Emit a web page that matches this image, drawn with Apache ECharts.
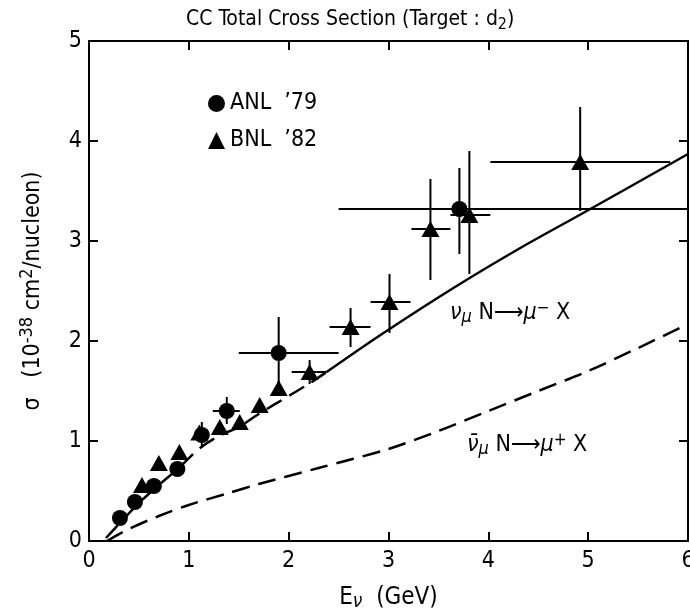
<!DOCTYPE html>
<html>
<head>
<meta charset="utf-8">
<script src="https://cdn.jsdelivr.net/npm/echarts@6/dist/echarts.min.js"></script>
<style>
  html, body { margin: 0; padding: 0; background: #fff; }
  #chart { width: 690px; height: 612px; }
</style>
</head>
<body>
<div id="chart"></div>
<script>
// ANL '79 (circles)
const anlE      = [0.31, 0.46, 0.65, 0.885, 1.13, 1.38, 1.90, 3.71];
const anlSigma  = [0.23, 0.39, 0.55, 0.72, 1.06, 1.30, 1.88, 3.32];
const anlELo    = [null, null, 0.60, 0.83, null, 1.24, 1.50, 2.50];
const anlEHi    = [null, null, 0.70, 0.94, null, 1.51, 2.50, 6.00];
const anlSigLo  = [null, null, null, null, 0.93, 1.17, 1.52, 2.87];
const anlSigHi  = [null, null, null, null, 1.19, 1.44, 2.24, 3.73];

// BNL '82 (triangles)
const bnlE      = [0.53, 0.70, 0.905, 1.105, 1.31, 1.51, 1.71, 1.90, 2.21, 2.62, 3.01, 3.42, 3.81, 4.92];
const bnlSigma  = [0.56, 0.78, 0.89, 1.085, 1.14, 1.19, 1.36, 1.53, 1.69, 2.14, 2.39, 3.12, 3.26, 3.79];
const bnlELo    = [null, null, null, null, null, null, null, null, 2.03, 2.41, 2.82, 3.23, 3.62, 4.02];
const bnlEHi    = [null, null, null, null, null, null, null, null, 2.38, 2.82, 3.22, 3.62, 4.02, 5.82];
const bnlSigLo  = [null, null, null, null, null, null, null, 1.45, 1.57, 1.94, 2.08, 2.61, 2.67, 3.30];
const bnlSigHi  = [null, null, null, null, null, null, null, 1.60, 1.81, 2.33, 2.67, 3.62, 3.90, 4.34];

// theory curves
const nuDashE   = [0.17, 0.3, 0.5, 0.7, 0.9, 1.1, 1.3, 1.5, 1.7, 2.0, 2.2, 2.38];
const nuDashS   = [0.03, 0.17, 0.38, 0.56, 0.73, 0.92, 1.05, 1.14, 1.27, 1.45, 1.57, 1.69];
const nuSolidE  = [2.38, 2.92, 3.65, 4.32, 4.95, 6.0];
const nuSolidS  = [1.69, 2.06, 2.53, 2.93, 3.28, 3.87];
const nubarE    = [0.18, 0.4, 0.7, 1.0, 1.4, 1.7, 2.3, 3.0, 3.5, 4.0, 4.5, 5.0, 5.5, 6.0];
const nubarS    = [0.0, 0.12, 0.25, 0.36, 0.48, 0.57, 0.73, 0.92, 1.10, 1.30, 1.50, 1.70, 1.93, 2.17];

const FONT = "'DejaVu Sans Condensed', 'Liberation Sans Narrow', 'DejaVu Sans', sans-serif";

const pairs = (xs, ys) => xs.map((x, i) => [x, ys[i]]);

function errorSeries(xs, ys, xlo, xhi, ylo, yhi) {
  return {
    type: 'custom',
    data: pairs(xs, ys),
    z: 1,
    clip: false,
    renderItem: function (params, api) {
      const i = params.dataIndex;
      const kids = [];
      const st = { stroke: '#000', lineWidth: 2 };
      if (xlo[i] != null) {
        const a = api.coord([xlo[i], ys[i]]);
        const b = api.coord([xhi[i], ys[i]]);
        kids.push({ type: 'line', shape: { x1: a[0], y1: a[1], x2: b[0], y2: b[1] }, style: st });
      }
      if (ylo[i] != null) {
        const a = api.coord([xs[i], ylo[i]]);
        const b = api.coord([xs[i], yhi[i]]);
        kids.push({ type: 'line', shape: { x1: a[0], y1: a[1], x2: b[0], y2: b[1] }, style: st });
      }
      return { type: 'group', children: kids };
    }
  };
}

const axisCommon = {
  type: 'value',
  interval: 1,
  axisLine: { onZero: false, lineStyle: { color: '#000', width: 2 } },
  axisTick: { inside: true, length: 9, lineStyle: { color: '#000', width: 2 } },
  splitLine: { show: false }
};

const annoRich = {
  it: { fontFamily: FONT, fontSize: 23, fontStyle: 'italic', fill: '#000' },
  sub: { fontFamily: FONT, fontSize: 18, fontStyle: 'italic', fill: '#000', padding: [8, 0, 0, 0] },
  sup: { fontFamily: FONT, fontSize: 17, fill: '#000', padding: [0, 0, 10, 0] },
  t: { fontFamily: FONT, fontSize: 23, fill: '#000' },
  a: { fontFamily: FONT, fontSize: 23, fill: '#000' }
};

const chart = echarts.init(document.getElementById('chart'));
chart.setOption({
  animation: false,
  backgroundColor: '#fff',
  textStyle: { fontFamily: FONT, color: '#000' },
  title: {
    text: 'CC Total Cross Section (Target : d{sub|2})',
    left: 181,
    top: 2,
    textStyle: {
      fontFamily: FONT, fontSize: 21, fontWeight: 'normal', color: '#000',
      rich: { sub: { fontFamily: FONT, fontSize: 16, color: '#000', padding: [10, 0, 0, 0] } }
    }
  },
  legend: {
    data: [{ name: 'ANL  ’79', icon: 'circle' }, { name: 'BNL  ’82', icon: 'triangle' }],
    orient: 'vertical',
    left: 203,
    top: 87,
    itemWidth: 17,
    itemHeight: 17,
    itemGap: 14,
    textStyle: { fontFamily: FONT, fontSize: 23, color: '#000' }
  },
  grid: { left: 89, right: 2, top: 41, bottom: 71, outerBoundsMode: 'none' },
  xAxis: [
    Object.assign({}, axisCommon, {
      min: 0, max: 6, position: 'bottom',
      axisLabel: { fontFamily: FONT, fontSize: 23, color: '#000', margin: 9 },
      name: 'E{sub|ν}  (GeV)',
      nameLocation: 'middle',
      nameGap: 42,
      nameTextStyle: {
        fontFamily: FONT, fontSize: 24, color: '#000',
        rich: { sub: { fontFamily: FONT, fontSize: 19, fontStyle: 'italic', color: '#000', padding: [10, 0, 0, 0] } }
      }
    }),
    Object.assign({}, axisCommon, { min: 0, max: 6, position: 'top', axisLabel: { show: false } })
  ],
  yAxis: [
    Object.assign({}, axisCommon, {
      min: 0, max: 5, position: 'left',
      axisLabel: { fontFamily: FONT, fontSize: 23, color: '#000', margin: 7 },
      name: '{t|σ   (10}{sup|-38}{t| cm}{sup|2}{t|/nucleon)}',
      nameLocation: 'middle',
      nameGap: 41,
      nameTextStyle: {
        fontFamily: FONT, fontSize: 23, color: '#000',
        rich: {
          t: { fontFamily: FONT, fontSize: 23, color: '#000' },
          sup: { fontFamily: FONT, fontSize: 18, color: '#000', padding: [0, 0, 12, 0] }
        }
      }
    }),
    Object.assign({}, axisCommon, { min: 0, max: 5, position: 'right', axisLabel: { show: false } })
  ],
  series: [
    {
      type: 'line', data: pairs(nuDashE, nuDashS), showSymbol: false, smooth: 0.3,
      lineStyle: { color: '#000', width: 2.5, type: [17, 9] }, z: 1
    },
    {
      type: 'line', data: pairs(nuSolidE, nuSolidS), showSymbol: false, smooth: 0.3,
      lineStyle: { color: '#000', width: 2.5 }, z: 1
    },
    {
      type: 'line', data: pairs(nubarE, nubarS), showSymbol: false, smooth: 0.3,
      lineStyle: { color: '#000', width: 2.5, type: [18, 9] }, z: 1
    },
    errorSeries(anlE, anlSigma, anlELo, anlEHi, anlSigLo, anlSigHi),
    errorSeries(bnlE, bnlSigma, bnlELo, bnlEHi, bnlSigLo, bnlSigHi),
    {
      name: 'ANL  ’79', type: 'scatter', symbol: 'circle', symbolSize: 16,
      itemStyle: { color: '#000', opacity: 1 }, data: pairs(anlE, anlSigma), z: 3
    },
    {
      name: 'BNL  ’82', type: 'scatter', symbol: 'triangle', symbolSize: [18, 16],
      itemStyle: { color: '#000', opacity: 1 }, data: pairs(bnlE, bnlSigma), z: 3
    }
  ],
  graphic: [
    {
      type: 'text', left: 450, top: 300,
      style: { text: '{it|ν}{sub|μ}{t| N}{a|⟶}{it|μ}{sup|−}{t| X}', fill: '#000', rich: annoRich }
    },
    {
      type: 'text', left: 467, top: 432,
      style: { text: '{it|ν̄}{sub|μ}{t| N}{a|⟶}{it|μ}{sup|+}{t| X}', fill: '#000', rich: annoRich }
    }
  ]
});
</script>
</body>
</html>
